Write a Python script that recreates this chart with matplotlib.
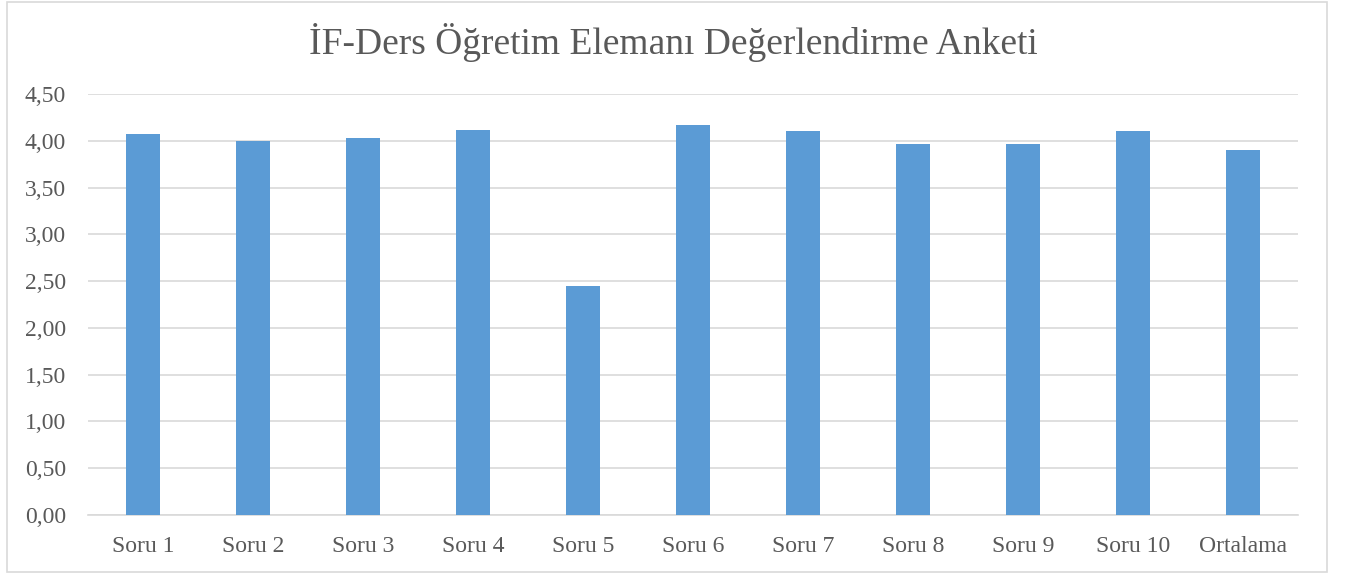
import matplotlib
matplotlib.use("Agg")
import matplotlib.pyplot as plt
from matplotlib.patches import Rectangle
from matplotlib.ticker import FuncFormatter, MultipleLocator

categories = ["Soru 1", "Soru 2", "Soru 3", "Soru 4", "Soru 5", "Soru 6",
              "Soru 7", "Soru 8", "Soru 9", "Soru 10", "Ortalama"]
values = [4.07, 4.00, 4.03, 4.11, 2.45, 4.17, 4.10, 3.97, 3.97, 4.10, 3.90]
title = "İF-Ders Öğretim Elemanı Değerlendirme Anketi"

plt.rcParams['font.family'] = ['Liberation Serif', 'DejaVu Serif']
text_color = "#595959"
grid_color = "#d9d9d9"
bar_color = "#5b9bd5"

fig = plt.figure(figsize=(13.46, 5.75), dpi=100)
fig.patches.append(Rectangle((7/1346, 1-572/575), (1327-7)/1346, (572-2)/575,
                             transform=fig.transFigure, fill=False,
                             edgecolor=grid_color, linewidth=1.2))

ax = fig.add_axes([88/1346, 1-515/575, (1298-88)/1346, (515-94)/575])
x = range(len(categories))
ax.bar(x, values, width=0.315, color=bar_color, zorder=3)
ax.set_xlim(-0.5, len(categories)-0.5)
ax.set_ylim(0, 4.5)
ax.yaxis.set_major_locator(MultipleLocator(0.5))
ax.yaxis.set_major_formatter(FuncFormatter(lambda v, p: f"{v:.2f}".replace(".", ",")))
ax.set_xticks(list(x))
ax.set_xticklabels(categories)
ax.grid(axis='y', color=grid_color, linewidth=1.2, zorder=0)
for s in ["top", "right", "left"]:
    ax.spines[s].set_visible(False)
ax.spines["bottom"].set_color(grid_color)
ax.spines["bottom"].set_linewidth(1.2)
ax.tick_params(axis='both', length=0, labelsize=17, labelcolor=text_color)
ax.tick_params(axis='x', pad=15)
ax.tick_params(axis='y', pad=16)
for lab in ax.get_yticklabels():
    lab.set_horizontalalignment('right')

fig.text(0.5, 1-43/575, title, ha='center', va='center', fontsize=27, color=text_color)

fig.savefig("out.png", dpi=100)
